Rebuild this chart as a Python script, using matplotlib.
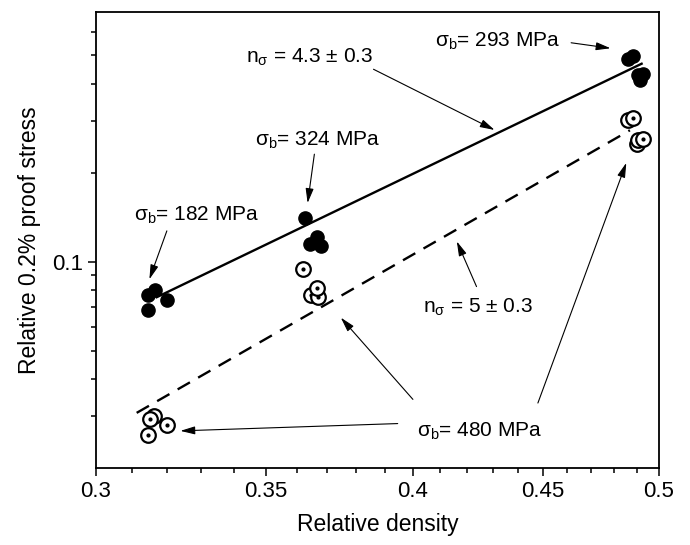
import matplotlib
matplotlib.use("Agg")
import matplotlib.pyplot as plt
from matplotlib.ticker import FixedLocator, FixedFormatter, NullFormatter

plt.rcParams["font.family"] = "Liberation Sans"
plt.rcParams["mathtext.fontset"] = "custom"
plt.rcParams["mathtext.rm"] = "Liberation Sans"
plt.rcParams["mathtext.it"] = "Liberation Sans:italic"

# filled circles: sigma_b = 182, 324 and 293 MPa foams
dense_x = [0.3146, 0.3165, 0.3146, 0.3200,
           0.3626, 0.3643, 0.3665, 0.3679,
           0.4863, 0.4885, 0.4907, 0.4929, 0.4915]
dense_y = [0.0774, 0.0803, 0.0687, 0.0743,
           0.1401, 0.1147, 0.1214, 0.1132,
           0.4853, 0.4941, 0.4263, 0.4319, 0.4101]

# open circles with dot: sigma_b = 480 MPa foam
open_x = [0.3162, 0.3151, 0.3146, 0.3199,
          0.3619, 0.3646, 0.3670, 0.3667,
          0.4863, 0.4885, 0.4902, 0.4907, 0.4929]
open_y = [0.0300, 0.0294, 0.0260, 0.0281,
          0.0943, 0.0772, 0.0758, 0.0814,
          0.3006, 0.3069, 0.2508, 0.2573, 0.2607]

# power-law fits (straight lines on log-log axes)
fit_dense_x = [0.3170, 0.4922]
fit_dense_y = [0.0758, 0.4669]
fit_open_x = [0.3113, 0.4870]
fit_open_y = [0.0308, 0.2781]

x_ticks = [0.3, 0.35, 0.4, 0.45, 0.5]
x_tick_labels = ["0.3", "0.35", "0.4", "0.45", "0.5"]
x_minor = [0.31, 0.32, 0.33, 0.34, 0.36, 0.37, 0.38, 0.39,
           0.41, 0.42, 0.43, 0.44, 0.46, 0.47, 0.48, 0.49]
y_ticks = [0.1]
y_tick_labels = ["0.1"]
y_minor = [0.03, 0.04, 0.05, 0.06, 0.07, 0.08, 0.09, 0.2, 0.3, 0.4, 0.5, 0.6]

# label text, text centre, and arrows (tail, head) in axes fraction
notes = [
    (r"σ$_\mathregular{b}$= 293 MPa", (0.714, 0.936), [((0.844, 0.932), (0.914, 0.920))]),
    (r"n$_\mathregular{σ}$ = 4.3 ± 0.3", (0.380, 0.901), [((0.493, 0.874), (0.708, 0.741))]),
    (r"σ$_\mathregular{b}$= 324 MPa", (0.393, 0.718), [((0.388, 0.688), (0.376, 0.581))]),
    (r"σ$_\mathregular{b}$= 182 MPa", (0.179, 0.555), [((0.126, 0.520), (0.095, 0.414))]),
    (r"n$_\mathregular{σ}$ = 5 ± 0.3", (0.679, 0.353), [((0.676, 0.398), (0.641, 0.497))]),
    (r"σ$_\mathregular{b}$= 480 MPa", (0.682, 0.082), [((0.536, 0.098), (0.150, 0.082)),
                                                       ((0.563, 0.151), (0.435, 0.330)),
                                                       ((0.785, 0.143), (0.942, 0.669))]),
]

fig = plt.figure(figsize=(6.9, 5.45), dpi=100)
ax = fig.add_axes([0.139, 0.1407, 0.816, 0.8378])
ax.set_xscale("log")
ax.set_yscale("log")

ax.plot(fit_dense_x, fit_dense_y, color="black", lw=1.7, zorder=2)
ax.plot(fit_open_x, fit_open_y, color="black", lw=1.7, dashes=(6, 4), zorder=2)

ax.plot(dense_x, dense_y, "o", color="black", ms=9.5, zorder=3)

# each open circle gets its dot right away so later circles cover earlier ones
for i, (x, y) in enumerate(zip(open_x, open_y)):
    ax.plot(x, y, "o", mfc="white", mec="black", mew=1.6, ms=10.5, zorder=4 + 2 * i)
    ax.plot(x, y, "o", color="black", ms=2.0, zorder=5 + 2 * i)

ax.set_xlim(0.3, 0.5)
ax.set_ylim(0.02, 0.7)

ax.xaxis.set_major_locator(FixedLocator(x_ticks))
ax.xaxis.set_major_formatter(FixedFormatter(x_tick_labels))
ax.xaxis.set_minor_locator(FixedLocator(x_minor))
ax.xaxis.set_minor_formatter(NullFormatter())
ax.yaxis.set_major_locator(FixedLocator(y_ticks))
ax.yaxis.set_major_formatter(FixedFormatter(y_tick_labels))
ax.yaxis.set_minor_locator(FixedLocator(y_minor))
ax.yaxis.set_minor_formatter(NullFormatter())

ax.tick_params(which="both", direction="out", width=1.1, labelsize=16)
ax.tick_params(which="major", length=6, pad=3)
ax.tick_params(which="minor", length=3.5)
for sp in ax.spines.values():
    sp.set_linewidth(1.3)

ax.set_xlabel("Relative density", fontsize=16.5, labelpad=8)
ax.set_ylabel("Relative 0.2% proof stress", fontsize=16.5, labelpad=8)

for text, pos, arrows in notes:
    ax.text(pos[0], pos[1], text, transform=ax.transAxes, fontsize=15,
            ha="center", va="center", zorder=40)
    for tail, head in arrows:
        ax.annotate("", xy=head, xytext=tail, xycoords="axes fraction",
                    textcoords="axes fraction",
                    arrowprops=dict(arrowstyle="-|>,head_length=0.8,head_width=0.22",
                                    lw=0.8, color="black",
                                    mutation_scale=11, shrinkA=0, shrinkB=0),
                    zorder=40)

fig.savefig("out.png", dpi=100)
